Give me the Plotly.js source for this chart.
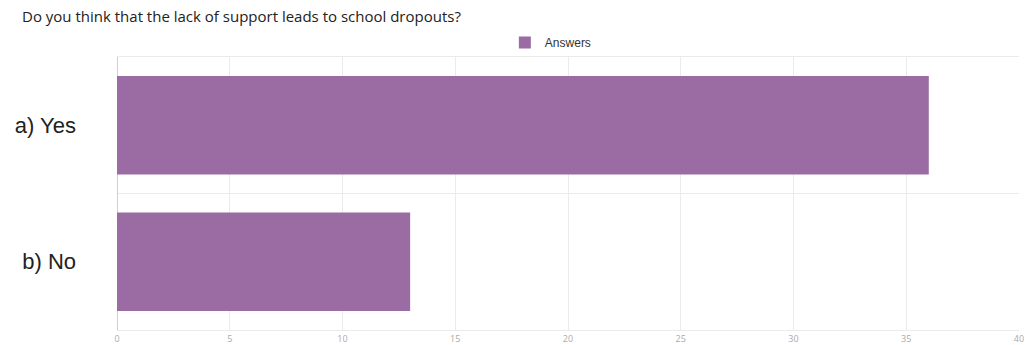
<!DOCTYPE html>
<html><head><meta charset="utf-8">
<script src="https://cdn.plot.ly/plotly-3.0.1.min.js"></script>
<style>html,body{margin:0;padding:0;background:#fff}#c{width:1034px;height:345px}</style>
</head><body><div id="c"></div>
<script>
const categories = ["a) Yes", "b) No"];
const answers = [36, 13];
const seriesName = "Answers";
const xTicks = [0, 5, 10, 15, 20, 25, 30, 35, 40];

Plotly.newPlot('c', [{
  type: 'bar', orientation: 'h',
  y: categories, x: answers, name: seriesName,
  marker: {color: '#9a6ca3'}, width: 0.72,
  showlegend: true, hoverinfo: 'none'
}], {
  width: 1034, height: 345,
  margin: {l: 117, r: 15, t: 57, b: 15},
  paper_bgcolor: '#fff', plot_bgcolor: '#fff',
  font: {family: '"Open Sans", Arial, sans-serif', color: '#222'},
  title: {text: 'Do you think that the lack of support leads to school dropouts?',
    x: 22/1034, xanchor: 'left', xref: 'container', y: 1 - 17/345, yanchor: 'middle', yref: 'container',
    font: {size: 15, color: '#222', family: '"Open Sans", Arial, sans-serif'}},
  showlegend: true,
  legend: {orientation: 'h', x: 0.43, xanchor: 'left', y: 1.0, yanchor: 'bottom',
    font: {size: 12, color: '#333', family: 'Liberation Sans, Arial, sans-serif'}, itemwidth: 30, bgcolor: 'rgba(0,0,0,0)'},
  xaxis: {range: [0, 40], tickvals: xTicks, showgrid: true, gridcolor: '#ebebeb', gridwidth: 1,
    zeroline: true, zerolinecolor: '#cfcfcf', zerolinewidth: 1,
    showline: true, mirror: true, linecolor: '#ebebeb', linewidth: 1,
    tickfont: {size: 9, color: '#aaa'}, ticks: '', fixedrange: true, automargin: false},
  yaxis: {type: 'category', autorange: 'reversed', tickson: 'boundaries', showgrid: true,
    gridcolor: '#ebebeb', gridwidth: 1, ticks: '',
    tickfont: {size: 22, color: '#222', family: 'Liberation Sans, Arial, sans-serif'},
    ticklabelstandoff: 40, automargin: false}
}, {displayModeBar: false, staticPlot: true});
</script></body></html>
